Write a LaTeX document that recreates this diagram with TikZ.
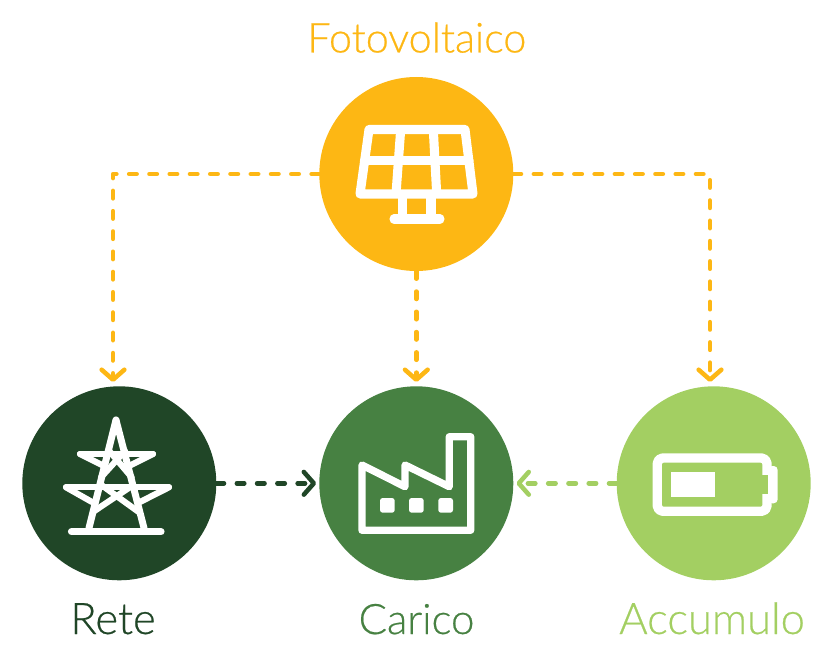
\documentclass[tikz,border=0pt]{standalone}
\usepackage{fontspec}
\setmainfont{Lato}[UprightFont=* Light,FakeBold=0.5]
\usetikzlibrary{arrows.meta}
\definecolor{sun}{HTML}{FDB714}
\definecolor{grid}{HTML}{204627}
\definecolor{load}{HTML}{478142}
\definecolor{batt}{HTML}{A3CF62}
\tikzset{
  x=0.75pt,y=-0.75pt,
  hub/.style={circle,minimum size=145.5pt,inner sep=0pt,draw=none},
  lab/.style={font=\fontsize{#1}{30pt}\selectfont,inner sep=0pt,anchor=base},
  lab/.default=32.7pt,
  flow/.style={line width=3.4pt,dash pattern=on 5.6pt off 9.6pt,line cap=round,line join=round,
    -{Straight Barb[length=7.5pt,width=17pt,line width=3.4pt,round]}},
  icon/.style={draw=white,line width=#1,line cap=round,line join=round},
  icon/.default=6.8pt
}
\begin{document}
\begin{tikzpicture}
\useasboundingbox (0,0) rectangle (833,660);
\node[hub,fill=sun]  (pv) at (416.3,174) {};
\node[hub,fill=grid] (rete) at (119.3,483.3) {};
\node[hub,fill=load] (carico) at (416.3,483.3) {};
\node[hub,fill=batt] (acc) at (713.7,483.3) {};
\node[lab=31pt,text=sun]  (tpv) at (416.8,52.5) {Fotovoltaico};
\node[lab,text=grid] (tr)  at (113,634) {Rete};
\node[lab=31.5pt,text=load] (tc)  at (416.5,634) {Carico};
\node[lab,text=batt] (ta)  at (712,634) {Accumulo};
\coordinate (r1) at (113,382);
\coordinate (a1) at (710,382);
\coordinate (c1) at (416.3,382);
\draw[flow,draw=sun] (pv.west) -- (113,174) -- (r1);
\draw[flow,draw=sun] (pv.east) -- (710,174) -- (a1);
\draw[flow,draw=sun] (pv.south) -- (c1);
\draw[flow,draw=grid,shorten >=2.2pt] (rete.east) -- (carico.west);
\draw[flow,draw=batt,shorten >=2.2pt] (acc.west) -- (carico.east);
% solar panel
\draw[icon] (369,129.5) -- (465,129.5) -- (473,194) -- (360,194) -- cycle;
\draw[icon] (364.5,160.3) -- (469,160.3);
\draw[icon,line cap=butt] (400.7,129.5) -- (396,194);
\draw[icon,line cap=butt] (433.3,129.5) -- (436.7,194);
\draw[icon,line cap=butt] (402.7,194) -- (402.7,219);
\draw[icon,line cap=butt] (431,194) -- (431,219);
\draw[icon] (394,219) -- (440,219);
% pylon
\draw[icon=5.2pt] (116,420) -- (89,528);
\draw[icon=5.2pt] (116,420) -- (144,528);
\draw[icon=5.4pt] (71.5,531.7) -- (161,531.7);
\draw[icon=4.6pt] (80,454) -- (153,454);
\draw[icon=4.6pt] (80,454) -- (104,466);
\draw[icon=4.6pt] (153,454) -- (129,466);
\draw[icon=4.6pt] (66,487.3) -- (169,487.3);
\draw[icon=4.6pt] (66,487.3) -- (92,502);
\draw[icon=4.6pt] (169,487.3) -- (140,502);
\draw[icon=4.6pt] (93.3,511.7) -- (133.3,485);
\draw[icon=4.6pt] (138.3,511.7) -- (100,484);
\draw[icon=4.6pt] (101,477.3) -- (125,451);
\draw[icon=4.6pt] (131.7,477.3) -- (109.3,451);
% factory
\draw[icon=5.5pt] (362,465) -- (362,530.3) -- (470.7,530.3) -- (470.7,436.7) -- (449.3,436.7) -- (449.3,486.7) -- (405,465) -- (405,486.7) -- cycle;
\foreach \wx in {380,409,438.3}
  \fill[white,rounded corners=2pt] (\wx,498) rectangle ++(14.7,14.7);
% battery
\fill[white,rounded corners=3pt] (768,466) rectangle (777.7,503.3);
\draw[icon=7pt,rounded corners=4pt] (657.3,458) rectangle (767,511.3);
\fill[batt] (762,475.3) rectangle (768,494);
\fill[white] (671,472) rectangle (715.3,497.3);
\end{tikzpicture}
\end{document}
